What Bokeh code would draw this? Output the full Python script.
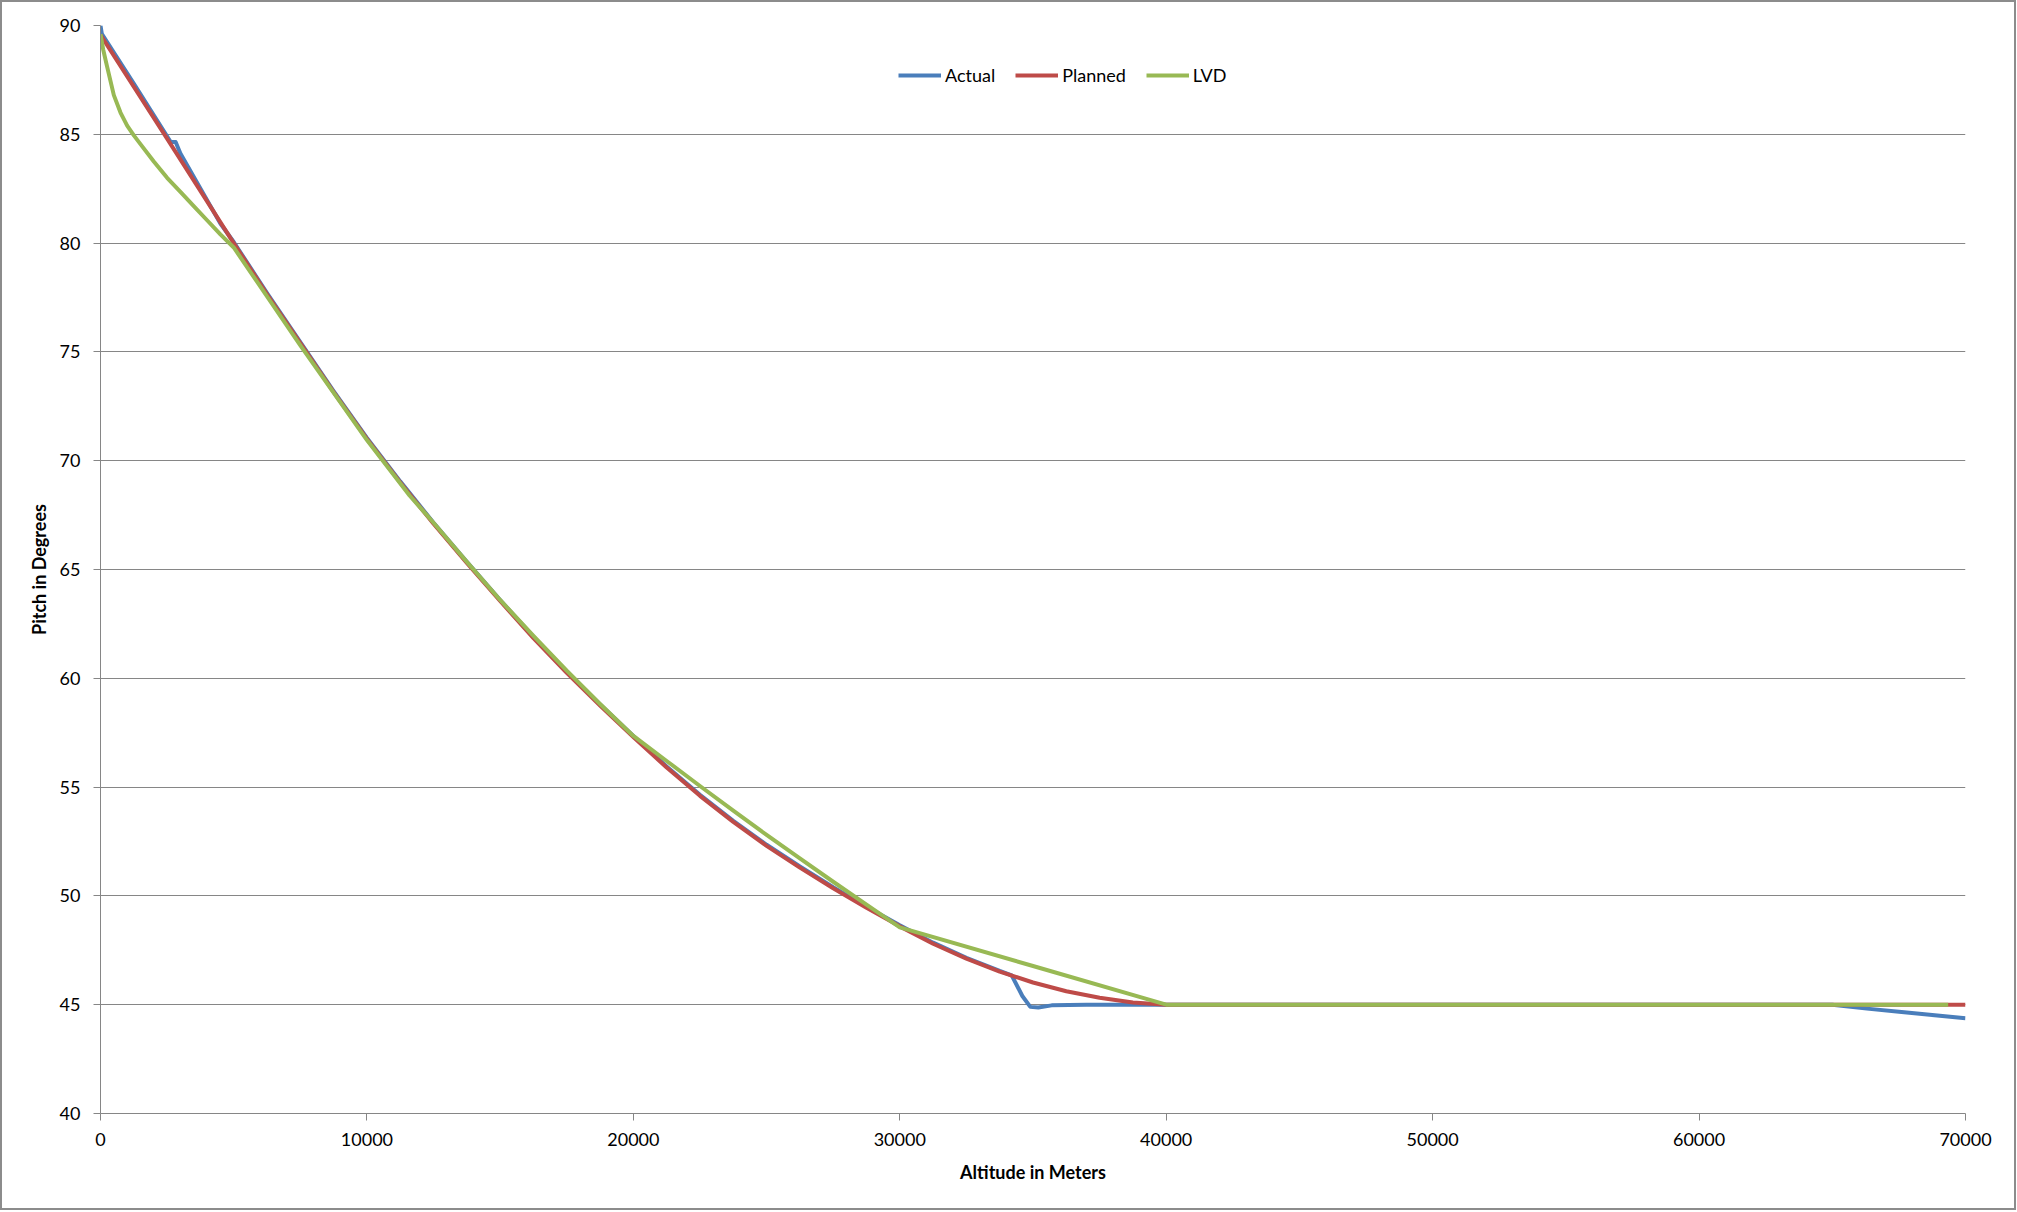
from bokeh.plotting import figure
from bokeh.models import Range1d, FixedTicker, NumeralTickFormatter, Legend, LegendItem
from bokeh.embed import file_html
from bokeh.resources import INLINE

# ---- data ----
actual_alt = [0, 50, 1250, 2630, 2820, 3000, 4500, 5000, 6250, 7500, 8750, 10000, 11250,
              12500, 13750, 15000, 16250, 17500, 18750, 20000, 21250, 22500, 23750, 25000,
              26250, 27500, 28750, 30000, 31250, 32500, 33750, 34200, 34600, 34900, 35200,
              35700, 37000, 40000, 50000, 60000, 65000, 66300, 67600, 70000]
actual_pitch = [90.0, 89.62, 87.33, 84.65, 84.65, 84.12, 80.9, 80.05, 77.7, 75.45, 73.2, 71.05, 69.05,
                67.15, 65.35, 63.6, 61.9, 60.3, 58.8, 57.35, 55.95, 54.65, 53.45, 52.35,
                51.35, 50.4, 49.5, 48.65, 47.85, 47.15, 46.55, 46.35, 45.4, 44.9, 44.87,
                44.97, 45.0, 45.0, 45.0, 45.0, 45.0, 44.82, 44.66, 44.38]

planned_alt = [0, 2500, 5000, 6250, 7500, 8750, 10000, 11250, 12500, 13750, 15000, 16250,
               17500, 18750, 20000, 21250, 22500, 23750, 25000, 26250, 27500, 28750, 30000,
               31250, 32500, 33750, 35000, 36250, 37500, 38750, 40000, 50000, 60000, 70000]
planned_pitch = [89.57, 84.8, 80.0, 77.65, 75.4, 73.15, 71.0, 69.0, 67.1, 65.3, 63.55, 61.85,
                 60.25, 58.75, 57.3, 55.9, 54.6, 53.4, 52.3, 51.3, 50.35, 49.45, 48.6,
                 47.8, 47.12, 46.52, 46.02, 45.62, 45.32, 45.1, 45.0, 45.0, 45.0, 45.0]

lvd_alt = [0, 100, 250, 500, 750, 1000, 1250, 1500, 2000, 2500, 3000, 3500, 4000, 4500,
           5000, 7500, 10000, 11600, 12500, 13750, 15000, 16250, 17500, 18750, 20000,
           21250, 22500, 23750, 25000, 26250, 27500, 28750, 30000, 35000, 40000, 50000,
           60000, 69350]
lvd_pitch = [89.6, 88.9, 88.1, 86.8, 86.0, 85.4, 84.95, 84.55, 83.75, 83.0, 82.35, 81.7,
             81.05, 80.4, 79.8, 75.3, 70.95, 68.4, 67.15, 65.35, 63.6, 61.95, 60.35, 58.82,
             57.35, 56.2, 55.05, 53.92, 52.8, 51.72, 50.65, 49.6, 48.55, 46.78, 45.0, 45.0,
             45.0, 45.0]

x_ticks = [0, 10000, 20000, 30000, 40000, 50000, 60000, 70000]
y_ticks = [40, 45, 50, 55, 60, 65, 70, 75, 80, 85, 90]

series_names = ["Actual", "Planned", "LVD"]
series_colors = ["#4A7EBB", "#BE4B48", "#98B954"]

FONT = "Lato"
GRAY = "#868686"

p = figure(width=2016, height=1210, output_backend="svg", toolbar_location=None,
           x_range=Range1d(0, 70000), y_range=Range1d(40, 90),
           min_border_left=98, min_border_right=53, min_border_top=23, min_border_bottom=99)
p.styles = {"border": "2px solid #8c8c8c", "box-sizing": "border-box"}
p.outline_line_color = None
p.background_fill_color = "white"
p.border_fill_color = "white"

LW = 4
r_a = p.line(actual_alt, actual_pitch, line_color=series_colors[0], line_width=LW, line_join="round")
r_p = p.line(planned_alt, planned_pitch, line_color=series_colors[1], line_width=LW, line_join="round")
r_l = p.line(lvd_alt, lvd_pitch, line_color=series_colors[2], line_width=LW, line_join="round")

p.xgrid.grid_line_color = None
p.ygrid.grid_line_color = GRAY
p.ygrid.grid_line_width = 1
p.ygrid.ticker = FixedTicker(ticks=y_ticks)

for ax in (p.xaxis[0], p.yaxis[0]):
    ax.axis_line_color = GRAY
    ax.axis_line_width = 1
    ax.major_tick_line_color = GRAY
    ax.major_tick_in = 0
    ax.major_tick_out = 7
    ax.minor_tick_line_color = None
    ax.major_label_text_font = FONT
    ax.major_label_text_font_size = "18px"
    ax.major_label_text_color = "black"
    ax.axis_label_text_font = FONT
    ax.axis_label_text_font_size = "18px"
    ax.axis_label_text_font_style = "bold"
    ax.axis_label_text_color = "black"
    ax.formatter = NumeralTickFormatter(format="0")

p.xaxis[0].ticker = FixedTicker(ticks=x_ticks)
p.yaxis[0].ticker = FixedTicker(ticks=y_ticks)
p.xaxis[0].axis_label = "Altitude in Meters"
p.yaxis[0].axis_label = "Pitch in Degrees"
p.xaxis[0].major_label_standoff = 12
p.yaxis[0].major_label_standoff = 13
p.xaxis[0].axis_label_standoff = 12
p.yaxis[0].axis_label_standoff = 7

legend = Legend(items=[LegendItem(label=series_names[0], renderers=[r_a]),
                       LegendItem(label=series_names[1], renderers=[r_p]),
                       LegendItem(label=series_names[2], renderers=[r_l])],
                orientation="horizontal", location=(798, 1027),
                glyph_width=43, glyph_height=20, label_height=20, label_standoff=4,
                spacing=20, padding=0, margin=0, border_line_color=None,
                background_fill_alpha=0, label_text_font=FONT,
                label_text_font_size="18px", label_text_color="black")
p.add_layout(legend, "center")

open("out.html", "w").write(file_html(p, INLINE))
